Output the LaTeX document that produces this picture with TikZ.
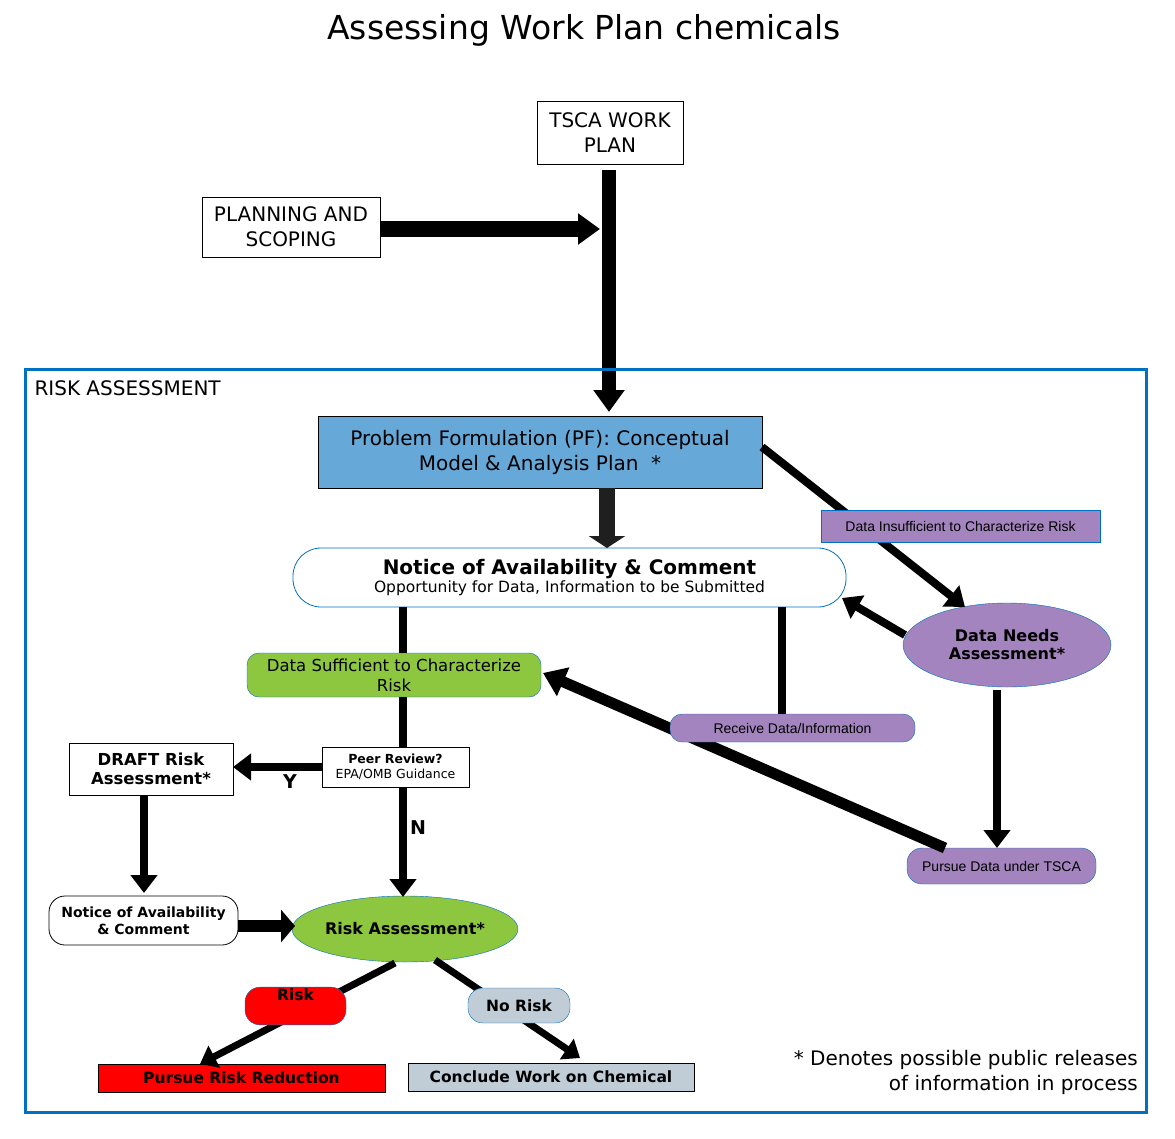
\documentclass[tikz,border=0pt]{standalone}
\usepackage{fontspec}
\setmainfont{DejaVu Sans}
\newfontfamily\narrowfont{Liberation Sans}
\usetikzlibrary{arrows.meta,shapes.geometric,positioning}
\definecolor{frameblue}{HTML}{0070C0}
\definecolor{pfblue}{HTML}{66A9D9}
\definecolor{leafgreen}{HTML}{8DC63F}
\definecolor{lilac}{HTML}{A484BE}
\definecolor{slate}{HTML}{C0CCD6}
\definecolor{riskred}{HTML}{FF0000}
\tikzset{
  box/.style={draw, thin, align=center, inner sep=2pt},
  pill/.style={box, rounded corners=12pt},
  fat/.style={line width=#1, -{Triangle[length=22pt,width=30pt]}},
  fat/.default=12pt,
  plain/.style={line width=#1},
  plain/.default=8pt
}
\begin{document}
\begin{tikzpicture}[x=1pt,y=-1pt]
\useasboundingbox (0,0) rectangle (1175,1138);

% title
\node[font=\fontsize{33}{38}\selectfont] (title) at (584,30) {Assessing Work Plan chemicals};

% top part
\node[box, minimum width=146pt, minimum height=63pt, font=\fontsize{20}{25}\selectfont] (tsca) at (610,133) {TSCA WORK\\PLAN};
\node[box, minimum width=178pt, minimum height=60pt, font=\fontsize{20}{25}\selectfont] (plan) at (291,227) {PLANNING AND\\SCOPING};
\draw[fat=16pt] (380,229) -- (600,229);
\draw[fat=14pt] (609,170) -- (609,412);

% frame
\draw[frameblue, line width=3pt] (25,369) rectangle (1146,1112);
\node[anchor=west, font=\fontsize{20}{24}\selectfont] (ra) at (31,388) {RISK ASSESSMENT};

% problem formulation
\node[box, fill=pfblue, minimum width=444pt, minimum height=72pt, font=\fontsize{20}{25}\selectfont] (pf) at (540,452) {Problem Formulation (PF): Conceptual\\Model \& Analysis Plan\ \ *};
\node[box, draw=frameblue, thick, rounded corners=28pt, minimum width=553pt, minimum height=59pt] (notice) at (569.5,577.5)
  {{\bfseries\fontsize{20}{22}\selectfont Notice of Availability \& Comment}\\[1pt]{\fontsize{15.5}{17}\selectfont Opportunity for Data, Information to be Submitted}};
\draw[line width=16pt, color=black!88, -{Triangle[length=12pt,width=36pt]}] (607,488) -- (607,548);

% data needs
\node[ellipse, draw=frameblue, fill=lilac, minimum width=208pt, minimum height=84pt, align=center, font=\bfseries\fontsize{16}{18}\selectfont, inner sep=0pt] (needs) at (1007,645) {Data Needs\\Assessment*};
\draw[line width=8pt, -{Triangle[length=18pt,width=26pt]}] (762,447) -- (965,607);
\node[box, draw=frameblue, fill=lilac, minimum width=279pt, minimum height=32pt, font=\narrowfont\fontsize{14}{16}\selectfont] (insuff) at (960.5,526) {Data Insufficient to Characterize Risk};
\draw[line width=8pt, -{Triangle[length=18pt,width=26pt]}] (905,635) -- (842,598);
\node[pill, draw=frameblue, fill=lilac, minimum width=189pt, minimum height=36pt, rounded corners=15pt, font=\narrowfont\fontsize{14}{16}\selectfont] (pursue) at (1001.5,866) {Pursue Data under TSCA};
\draw[line width=8pt, -{Triangle[length=18pt,width=26pt]}] (997,690) -- (997,848);

% data sufficient
\node[pill, draw=frameblue, fill=leafgreen, minimum width=294pt, minimum height=44pt, font=\fontsize{16.5}{20}\selectfont] (suff) at (394,675) {Data Sufficient to Characterize\\Risk};
\draw[line width=11pt, -{Triangle[length=22pt,width=30pt]}] (945,848) -- (543,673);
\node[pill, draw=frameblue, fill=lilac, minimum width=245pt, minimum height=28pt, font=\narrowfont\fontsize{14}{16}\selectfont] (receive) at (792.5,728) {Receive Data/Information};
\draw[plain] (782,607) -- (782,714);
\draw[plain] (403,607) -- (403,653);

% peer review
\node[box, minimum width=147pt, minimum height=40pt, font=\fontsize{12.5}{15}\selectfont] (peer) at (395.5,767)
  {\textbf{Peer Review?}\\EPA/OMB Guidance};
\draw[plain] (403,697) -- (403,747);
\node[box, thick, minimum width=164pt, minimum height=52pt, font=\bfseries\fontsize{16.5}{19}\selectfont] (draft) at (151,769) {DRAFT Risk\\Assessment*};
\draw[line width=8pt, -{Triangle[length=18pt,width=26pt]}] (322,767) -- (233,767);
\node[font=\bfseries\fontsize{19}{22}\selectfont] (yes) at (290,782) {Y};

% risk assessment
\node[ellipse, draw=frameblue, fill=leafgreen, minimum width=220pt, minimum height=66pt, font=\bfseries\fontsize{16}{19}\selectfont, inner sep=0pt] (riskas) at (405,929) {Risk Assessment*};
\draw[line width=8pt, -{Triangle[length=18pt,width=26pt]}] (403,787) -- (403,897);
\node[font=\bfseries\fontsize{19}{22}\selectfont] (no) at (418,828) {N};
\node[pill, thick, rounded corners=16pt, minimum width=189pt, minimum height=49pt, font=\bfseries\fontsize{14}{17}\selectfont] (notice2) at (143.5,920.5) {Notice of Availability\\\& Comment};
\draw[line width=8pt, -{Triangle[length=18pt,width=26pt]}] (144,795) -- (144,893);
\draw[line width=12pt, -{Triangle[length=14pt,width=32pt]}] (238,926) -- (295,926);

% outcomes
\node[box, fill=riskred, thick, minimum width=287pt, minimum height=28pt, font=\bfseries\fontsize{15.5}{18}\selectfont] (reduce) at (241.5,1078) {Pursue Risk Reduction};
\node[box, fill=slate, thick, minimum width=286pt, minimum height=28pt, font=\bfseries\fontsize{15.5}{18}\selectfont] (conclude) at (551,1077) {Conclude Work on Chemical};
\draw[line width=7pt, -{Triangle[length=16pt,width=24pt]}] (395,963) -- (200,1064);
\draw[line width=7pt, -{Triangle[length=16pt,width=24pt]}] (435,960) -- (580,1058);
\node[pill, draw=frameblue, fill=riskred, rounded corners=15pt, minimum width=101pt, minimum height=35pt, font=\bfseries\fontsize{15.5}{18}\selectfont] (risk) at (295.5,1006) {Risk\\[4pt]};
\node[pill, draw=frameblue, fill=slate, rounded corners=15pt, minimum width=102pt, minimum height=35pt, font=\bfseries\fontsize{15.5}{18}\selectfont] (norisk) at (519,1005.5) {No Risk};

% footnote
\node[anchor=north east, align=right, font=\fontsize{20}{25}\selectfont, inner sep=0pt] (foot) at (1138,1050) {*\ Denotes possible public releases\\of information in process};
\end{tikzpicture}
\end{document}
